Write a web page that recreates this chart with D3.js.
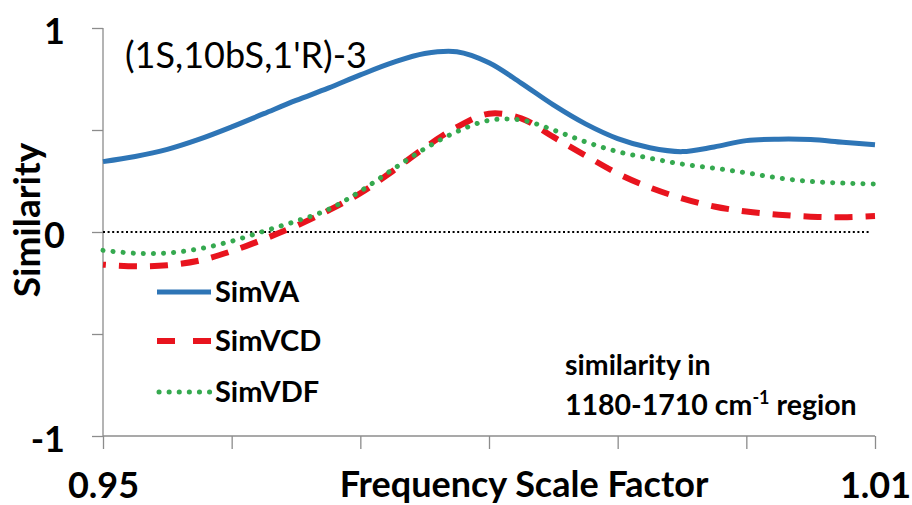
<!DOCTYPE html>
<html>
<head>
<meta charset="utf-8">
<script src="https://cdn.jsdelivr.net/npm/d3@7"></script>
<style>
    body { margin: 0; background: #fff; }
    text { font-family: Lato, 'Open Sans', sans-serif; fill: #000; }
</style>
</head>
<body>
<svg id="canvas" width="912" height="505"></svg>
<script>
// frequency scale factor (x)
const scaleFactors = [0.95, 0.9525, 0.955, 0.9575, 0.96, 0.9625, 0.965, 0.9675, 0.97, 0.9725,
    0.975, 0.9775, 0.98, 0.9825, 0.985, 0.9875, 0.99, 0.9925, 0.995, 0.9975,
    1.0, 1.0025, 1.005, 1.0075, 1.01];

const simVA = [0.345, 0.37, 0.405, 0.455, 0.515, 0.58, 0.645, 0.705, 0.77, 0.83,
    0.875, 0.884, 0.83, 0.73, 0.623, 0.53, 0.458, 0.413, 0.394, 0.417,
    0.448, 0.455, 0.453, 0.44, 0.428];

const simVCD = [-0.16, -0.168, -0.163, -0.14, -0.094, -0.035, 0.03, 0.105, 0.19, 0.298,
    0.413, 0.514, 0.58, 0.557, 0.466, 0.375, 0.287, 0.218, 0.165, 0.125,
    0.1, 0.085, 0.075, 0.072, 0.078];

const simVDF = [-0.09, -0.104, -0.103, -0.082, -0.045, 0.004, 0.053, 0.11, 0.2, 0.306,
    0.408, 0.492, 0.547, 0.549, 0.5, 0.442, 0.394, 0.362, 0.333, 0.313,
    0.29, 0.265, 0.248, 0.24, 0.235];

const seriesNames = ['SimVA', 'SimVCD', 'SimVDF'];

const xTicks = [0.95, 0.96, 0.97, 0.98, 0.99, 1.0, 1.01];
const xTickLabels = ['0.95', '', '', '', '', '', '1.01'];
const yTicks = [-1, -0.5, 0, 0.5, 1];
const yTickLabels = ['-1', '', '0', '', '1'];

const canvas = d3.select('#canvas');

const x = d3.scaleLinear().domain([0.95, 1.01]).range([103, 875]);
const y = d3.scaleLinear().domain([-1, 1]).range([436, 28]);

const styles = [
    { color: '#2e75b6', width: 5, dash: null, cap: 'butt', offset: 0 },
    { color: '#e8141e', width: 6, dash: '18,13', cap: 'butt', offset: 15 },
    { color: '#35a94f', width: 5, dash: '0.1,10', cap: 'round', offset: 0 }
];

// axes
const yAxis = d3.axisLeft(y)
    .tickValues(yTicks)
    .tickSize(11)
    .tickPadding(27)
    .tickFormat((d, i) => yTickLabels[i]);

const xAxis = d3.axisBottom(x)
    .tickValues(xTicks)
    .tickSize(13)
    .tickPadding(23)
    .tickFormat((d, i) => xTickLabels[i]);

const gy = canvas.append('g')
    .attr('transform', 'translate(103,0)')
    .call(yAxis);

const gx = canvas.append('g')
    .attr('transform', 'translate(0,436)')
    .call(xAxis);

[gx, gy].forEach(g => {
    g.select('.domain').attr('stroke', '#8c8c8c').attr('stroke-width', 1.3);
    g.selectAll('.tick line').attr('stroke', '#8c8c8c').attr('stroke-width', 1.3);
    g.selectAll('.tick text')
        .style('font-family', 'Lato, sans-serif')
        .style('font-weight', 'bold')
        .style('font-size', '36px')
        .attr('fill', '#000');
});
gy.selectAll('.tick text').attr('dy', '0.42em');
gy.select('.domain').attr('d', 'M0,436V28');
gx.select('.domain').attr('d', 'M103,0H875');

// zero line
canvas.append('line')
    .attr('x1', x(0.95))
    .attr('x2', x(1.01) - 4)
    .attr('y1', y(0))
    .attr('y2', y(0))
    .attr('stroke', '#000')
    .attr('stroke-width', 2)
    .attr('stroke-dasharray', '2,2.6');

// series
const lineGen = values => d3.line()
    .x((d, i) => x(scaleFactors[i]))
    .y(d => y(d))
    .curve(d3.curveCatmullRom.alpha(0.5))(values);

[simVA, simVCD, simVDF].forEach((values, i) => {
    canvas.append('path')
        .attr('d', lineGen(values))
        .attr('fill', 'none')
        .attr('stroke', styles[i].color)
        .attr('stroke-width', styles[i].width)
        .attr('stroke-linecap', styles[i].cap)
        .attr('stroke-dasharray', styles[i].dash)
        .attr('stroke-dashoffset', styles[i].offset);
});

// legend
const legendY = [292, 341, 392];
seriesNames.forEach((name, i) => {
    canvas.append('line')
        .attr('x1', 157)
        .attr('x2', 211)
        .attr('y1', legendY[i])
        .attr('y2', legendY[i])
        .attr('stroke', styles[i].color)
        .attr('stroke-width', styles[i].width)
        .attr('stroke-linecap', styles[i].cap)
        .attr('stroke-dasharray', i === 1 ? '18,18' : styles[i].dash)
        .attr('transform', i === 2 ? 'translate(2,0)' : null);

    canvas.append('text')
        .attr('x', 215)
        .attr('y', legendY[i] + 10)
        .style('font-weight', 'bold')
        .style('font-size', '29px')
        .text(name);
});

// axis titles
canvas.append('text')
    .attr('x', 524)
    .attr('y', 497)
    .attr('text-anchor', 'middle')
    .style('font-weight', 'bold')
    .style('font-size', '36px')
    .text('Frequency Scale Factor');

canvas.append('text')
    .attr('transform', 'translate(40,220) rotate(-90)')
    .attr('text-anchor', 'middle')
    .style('font-weight', 'bold')
    .style('font-size', '37px')
    .text('Similarity');

// annotations
canvas.append('text')
    .attr('x', 125)
    .attr('y', 68)
    .style('font-size', '36px')
    .text("(1S,10bS,1'R)-3");

canvas.append('text')
    .attr('x', 565)
    .attr('y', 375)
    .style('font-weight', 'bold')
    .style('font-size', '28.5px')
    .text('similarity in');

const note = canvas.append('text')
    .attr('x', 565)
    .attr('y', 415)
    .style('font-weight', 'bold')
    .style('font-size', '28.5px');
note.append('tspan').text('1180-1710 cm');
note.append('tspan').attr('dy', -11).style('font-size', '18px').text('-1');
note.append('tspan').attr('dy', 11).text(' region');
</script>
</body>
</html>
